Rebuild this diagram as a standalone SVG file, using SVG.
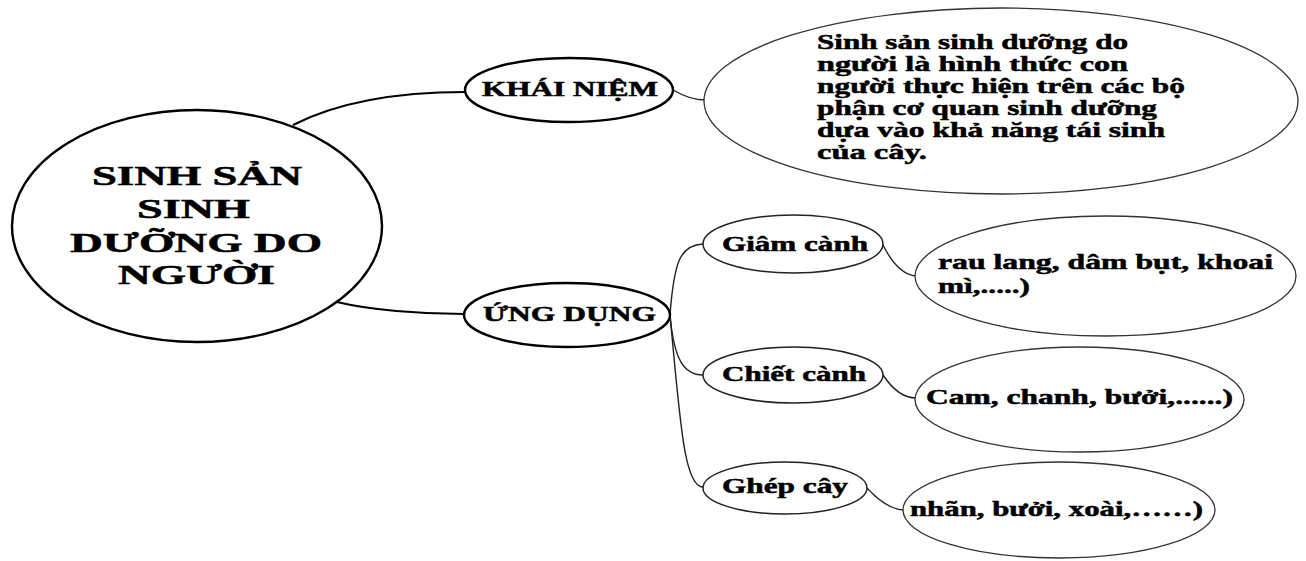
<svg xmlns="http://www.w3.org/2000/svg" width="1306" height="561" viewBox="0 0 1306 561">
<style>
.bg{fill:#fff}
.main{fill:#fff;stroke:#000;stroke-width:2.4}
.sub{fill:#fff;stroke:#222;stroke-width:1.5}
.thin{fill:#fff;stroke:#333;stroke-width:1.3}
.c1{fill:none;stroke:#000;stroke-width:2.2}
.c2{fill:none;stroke:#222;stroke-width:1.4}
text{font-family:"Liberation Serif","Times New Roman",serif;font-weight:bold;fill:#000;stroke:#000;stroke-width:0.5}
.t27{font-size:27px}
.t21{font-size:21px}
.t20{font-size:20px}
</style>
<rect class="bg" x="0" y="0" width="1306" height="561"/>
<g id="connectors">
<path class="c1" d="M293 125 C340 101 400 92 465 92"/>
<path class="c1" d="M337 302 C370 310 420 314 464 314"/>
<path class="c2" d="M673 90 C685 97 694 100 705 100"/>
<path class="c2" d="M670 315 C674 262 680 245 703 244"/>
<path class="c2" d="M670 315 C674 360 684 375 703 375"/>
<path class="c2" d="M670 315 C680 420 684 487 703 487"/>
<path class="c2" d="M883 245 C893 265 903 275 916 276"/>
<path class="c2" d="M883 375 C893 390 903 398 916 398"/>
<path class="c2" d="M867 488 C878 500 890 509 903 510"/>
</g>
<g id="center">
<ellipse class="main" cx="197" cy="226" rx="185" ry="116"/>
<text class="t27" x="92" y="185" textLength="210" lengthAdjust="spacingAndGlyphs">SINH SẢN</text>
<text class="t27" x="137" y="218" textLength="113" lengthAdjust="spacingAndGlyphs">SINH</text>
<text class="t27" x="70" y="252" textLength="252" lengthAdjust="spacingAndGlyphs">DƯỠNG DO</text>
<text class="t27" x="118" y="284" textLength="157" lengthAdjust="spacingAndGlyphs">NGƯỜI</text>
</g>
<g id="khainiem">
<ellipse class="main" cx="569" cy="90" rx="104" ry="32"/>
<text class="t20" x="482" y="96" textLength="176" lengthAdjust="spacingAndGlyphs">KHÁI NIỆM</text>
</g>
<g id="dinhnghia">
<ellipse class="thin" cx="1001" cy="101" rx="297" ry="93"/>
<text class="t21" x="817" y="49" textLength="311" lengthAdjust="spacingAndGlyphs">Sinh sản sinh dưỡng do</text>
<text class="t21" x="817" y="71" textLength="311" lengthAdjust="spacingAndGlyphs">người là hình thức con</text>
<text class="t21" x="817" y="93" textLength="368" lengthAdjust="spacingAndGlyphs">người thực hiện trên các bộ</text>
<text class="t21" x="817" y="115" textLength="340" lengthAdjust="spacingAndGlyphs">phận cơ quan sinh dưỡng</text>
<text class="t21" x="817" y="137" textLength="348" lengthAdjust="spacingAndGlyphs">dựa vào khả năng tái sinh</text>
<text class="t21" x="817" y="159" textLength="110" lengthAdjust="spacingAndGlyphs">của cây.</text>
</g>
<g id="ungdung">
<ellipse class="main" cx="567" cy="315" rx="103" ry="32"/>
<text class="t21" x="483" y="321" textLength="173" lengthAdjust="spacingAndGlyphs">ỨNG DỤNG</text>
</g>
<g id="giamcanh">
<ellipse class="sub" cx="793" cy="244" rx="90" ry="29"/>
<text class="t20" x="722" y="251" textLength="146" lengthAdjust="spacingAndGlyphs">Giâm cành</text>
</g>
<g id="chietcanh">
<ellipse class="sub" cx="793" cy="375" rx="90" ry="28"/>
<text class="t20" x="722" y="381" textLength="144" lengthAdjust="spacingAndGlyphs">Chiết cành</text>
</g>
<g id="ghepcay">
<ellipse class="sub" cx="785" cy="488" rx="82" ry="26"/>
<text class="t20" x="722" y="493" textLength="126" lengthAdjust="spacingAndGlyphs">Ghép cây</text>
</g>
<g id="vidu1">
<ellipse class="thin" cx="1105.5" cy="276" rx="190.5" ry="60"/>
<text class="t21" x="938" y="269" textLength="335" lengthAdjust="spacingAndGlyphs">rau lang, dâm bụt, khoai</text>
<text class="t21" x="938" y="293" textLength="92" lengthAdjust="spacingAndGlyphs">mì,.....)</text>
</g>
<g id="vidu2">
<ellipse class="thin" cx="1079.5" cy="399.5" rx="164.5" ry="52.5"/>
<text class="t21" x="926" y="404" textLength="307" lengthAdjust="spacingAndGlyphs">Cam, chanh, bưởi,......)</text>
</g>
<g id="vidu3">
<ellipse class="thin" cx="1059" cy="510" rx="156" ry="48"/>
<text class="t21" x="910" y="516" textLength="293" lengthAdjust="spacingAndGlyphs">nhãn, bưởi, xoài,……)</text>
</g>
</svg>
